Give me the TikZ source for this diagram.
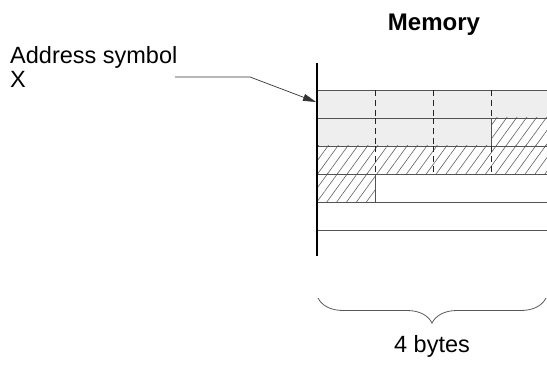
\documentclass[tikz,border=0pt]{standalone}
\usepackage{fontspec}
\setmainfont{Liberation Sans}
\usetikzlibrary{arrows.meta, patterns.meta, decorations.pathreplacing}

\begin{document}
\begin{tikzpicture}[x=1pt, y=-1pt, >={Triangle[length=13pt, width=7pt]},
    cellfill/.style={fill=gray!13, draw=none},
    hatched/.style={pattern={Lines[angle=54, distance=8pt, line width=0.6pt]}, pattern color=gray!75!black},
    rowline/.style={gray!65!black, line width=0.8pt},
    divider/.style={gray!30!black, line width=0.7pt, dash pattern=on 6pt off 4pt},
    label/.style={inner sep=0pt, font=\fontsize{23.5}{24}\selectfont}]
        \useasboundingbox (0,0) rectangle (547,366);

        % Filled and hatched cells
        \fill[cellfill] (317,90) rectangle (547,118);
        \fill[cellfill] (317,118) rectangle (491,146);
        \fill[hatched] (491,118) rectangle (547,146);
        \fill[hatched] (317,146) rectangle (547,174);
        \fill[hatched] (317,174) rectangle (375,202);

        % Row boundaries
        \foreach \y in {90, 118, 146, 174, 202, 230} {
            \draw[rowline] (317,\y) -- (547,\y);
        }
        % Byte dividers (dashed)
        \foreach \x/\top/\bot in {375/90/118, 433/90/118, 491/90/118, 375/118/146, 433/118/146,
                                  375/146/174, 433/146/174, 491/146/174} {
            \draw[divider] (\x,\top) -- (\x,\bot);
        }
        % Edges of the data (solid)
        \draw[rowline] (491,118) -- (491,146);
        \draw[rowline] (375,174) -- (375,202);

        % Address axis
        \draw[black, line width=1.4pt] (317,63) -- (317,256);

        % Labels
        \node[label, font=\fontsize{24}{24}\selectfont\bfseries, anchor=base] (memory) at (434,31) {Memory};
        \node[label, anchor=north west, align=left] (addr) at (10,46) {Address symbol\\X};
        \node[label, anchor=base] (bytes) at (432,353) {4 bytes};

        % Pointer to the first cell
        \coordinate (start) at (175,77);
        \coordinate (bend) at (250,77);
        \coordinate (cell) at (316,102);
        \draw[->, black!80, line width=0.7pt] (start) -- (bend) -- (cell);

        % Brace over the row width
        \coordinate (braceL) at (318,298);
        \coordinate (braceR) at (546,298);
        \draw[gray!70!black, line width=0.8pt, decorate, decoration={brace, mirror, amplitude=25pt}] (braceL) -- (braceR);
\end{tikzpicture}
\end{document}
